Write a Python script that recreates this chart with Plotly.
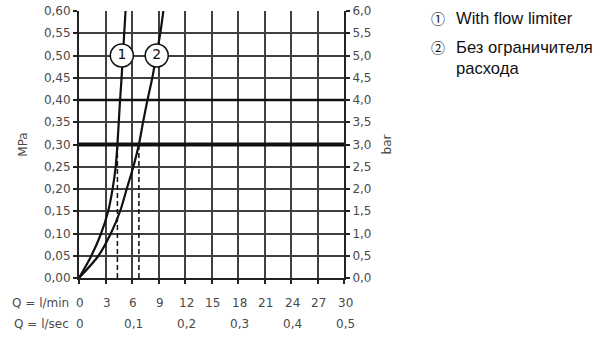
import plotly.graph_objects as go

# ---- data ----
pressure_mpa = [0.00, 0.05, 0.10, 0.15, 0.20, 0.25, 0.30, 0.35, 0.40, 0.45, 0.50, 0.55, 0.60]
flow_with_limiter = [0.0, 1.4, 2.5, 3.3, 3.8, 4.15, 4.35, 4.5, 4.65, 4.82, 4.97, 5.12, 5.27]
flow_without_limiter = [0.0, 2.2, 3.6, 4.65, 5.4, 6.15, 6.78, 7.25, 7.75, 8.3, 8.75, 9.2, 9.55]

operating_pressure = 0.30
highlight_pressure = 0.40
operating_flows = [4.35, 6.78]

curve_labels = ["1", "2"]
curve_label_q = [4.85, 8.8]
curve_label_p = [0.50, 0.50]

mpa_ticks = [0.00, 0.05, 0.10, 0.15, 0.20, 0.25, 0.30, 0.35, 0.40, 0.45, 0.50, 0.55, 0.60]
mpa_labels = ["0,00", "0,05", "0,10", "0,15", "0,20", "0,25", "0,30", "0,35", "0,40", "0,45", "0,50", "0,55", "0,60"]
bar_ticks = [0.0, 0.5, 1.0, 1.5, 2.0, 2.5, 3.0, 3.5, 4.0, 4.5, 5.0, 5.5, 6.0]
bar_labels = ["0,0", "0,5", "1,0", "1,5", "2,0", "2,5", "3,0", "3,5", "4,0", "4,5", "5,0", "5,5", "6,0"]
lmin_ticks = [0, 3, 6, 9, 12, 15, 18, 21, 24, 27, 30]
lmin_labels = ["0", "3", "6", "9", "12", "15", "18", "21", "24", "27", "30"]
lsec_ticks = [0, 6, 12, 18, 24, 30]
lsec_labels = ["0", "0,1", "0,2", "0,3", "0,4", "0,5"]

legend_marks = ["\u2460", "\u2461", ""]
legend_texts = ["With flow limiter", "Без ограничителя", "расхода"]

AX_FONT = dict(family="DejaVu Sans", size=12, color="#4a4a4a")
GRID = "#404040"

fig = go.Figure()

# reference pressure lines (drawn first, below curves)
fig.add_trace(go.Scatter(x=[0, 30], y=[highlight_pressure] * 2, mode="lines",
                         line=dict(color="#111", width=2.5), hoverinfo="skip", showlegend=False))
fig.add_trace(go.Scatter(x=[0, 30], y=[operating_pressure] * 2, mode="lines",
                         line=dict(color="#111", width=4), hoverinfo="skip", showlegend=False))

for q in operating_flows:
    fig.add_trace(go.Scatter(x=[q, q], y=[0, operating_pressure], mode="lines",
                             line=dict(color="#111", width=1.5, dash="5px,3px"),
                             hoverinfo="skip", showlegend=False))

fig.add_trace(go.Scatter(x=flow_with_limiter, y=pressure_mpa, mode="lines",
                         line=dict(color="#111", width=2.2, shape="spline", smoothing=0.8),
                         showlegend=False))
fig.add_trace(go.Scatter(x=flow_without_limiter, y=pressure_mpa, mode="lines",
                         line=dict(color="#111", width=2.2, shape="spline", smoothing=0.8),
                         showlegend=False))

fig.add_trace(go.Scatter(x=curve_label_q, y=curve_label_p, mode="markers+text",
                         text=curve_labels, textposition="middle center",
                         textfont=dict(family="DejaVu Sans", size=14, color="#111"),
                         marker=dict(size=23, color="white", line=dict(color="#111", width=1.5)),
                         showlegend=False))

# invisible trace on right axis
fig.add_trace(go.Scatter(x=[0, 30], y=[0, 6], mode="markers", marker=dict(opacity=0),
                         yaxis="y2", hoverinfo="skip", showlegend=False))

annotations = []
# x-axis label rows
for v, t in zip(lmin_ticks, lmin_labels):
    annotations.append(dict(x=v, y=0, xref="x", yref="paper", text=t, showarrow=False,
                            xanchor="center", yanchor="middle", yshift=-25, xshift=1, font=AX_FONT))
for v, t in zip(lsec_ticks, lsec_labels):
    annotations.append(dict(x=v, y=0, xref="x", yref="paper", text=t, showarrow=False,
                            xanchor="center", yanchor="middle", yshift=-46, xshift=1, font=AX_FONT))
annotations.append(dict(x=0, y=0, xref="paper", yref="paper", text="Q = l/min", showarrow=False,
                        xanchor="right", yanchor="middle", yshift=-25, xshift=-8, font=AX_FONT))
annotations.append(dict(x=0, y=0, xref="paper", yref="paper", text="Q = l/sec", showarrow=False,
                        xanchor="right", yanchor="middle", yshift=-46, xshift=-8, font=AX_FONT))
# legend text
leg_font = dict(family="Liberation Sans, Arial", size=16.6, color="#111")
mark_font = dict(family="Noto Sans CJK JP", size=14, color="#111")
row_shift = [-7, -36, -57]
for m, t, ys in zip(legend_marks, legend_texts, row_shift):
    if m:
        annotations.append(dict(x=1, y=1, xref="paper", yref="paper", text=m, showarrow=False,
                                xanchor="center", yanchor="middle", xshift=94, yshift=ys, font=mark_font))
    annotations.append(dict(x=1, y=1, xref="paper", yref="paper", text=t, showarrow=False,
                            xanchor="left", yanchor="middle", xshift=110, yshift=ys, font=leg_font))

fig.update_layout(
    width=600, height=339,
    margin=dict(l=79, r=256, t=11, b=61),
    paper_bgcolor="white", plot_bgcolor="white",
    showlegend=False,
    annotations=annotations,
    xaxis=dict(range=[0, 30], tickvals=lmin_ticks, showticklabels=False, automargin=False,
               showgrid=True, gridcolor=GRID, gridwidth=1.5, zeroline=False,
               showline=True, linecolor="#222", linewidth=2, mirror=False,
               ticks="outside", ticklen=4, tickcolor="#222", tickwidth=1.5, fixedrange=True),
    yaxis=dict(range=[0, 0.6], tickvals=mpa_ticks, ticktext=mpa_labels, tickfont=AX_FONT,
               automargin=False,
               showgrid=True, gridcolor=GRID, gridwidth=1.5, zeroline=False,
               showline=True, linecolor="#222", linewidth=2,
               ticks="outside", ticklen=4, tickcolor="#222", tickwidth=1.5,
               title=dict(text="MPa", font=AX_FONT, standoff=14)),
    yaxis2=dict(range=[0, 6], tickvals=bar_ticks, ticktext=bar_labels, tickfont=AX_FONT,
                automargin=False,
                overlaying="y", side="right", showgrid=False, zeroline=False,
                showline=True, linecolor="#222", linewidth=2,
                ticks="outside", ticklen=4, tickcolor="#222", tickwidth=1.5,
                title=dict(text="bar", font=AX_FONT, standoff=12)),
)

fig.write_html("out.html")
